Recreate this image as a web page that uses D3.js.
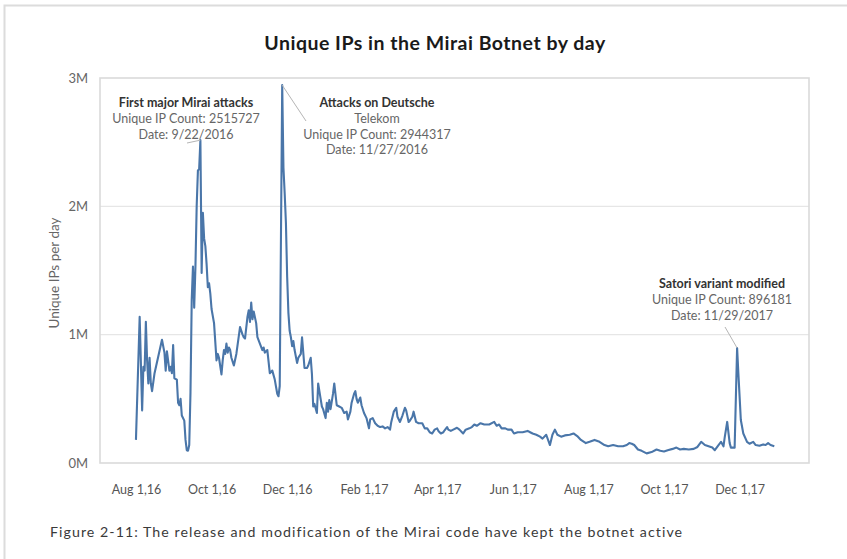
<!DOCTYPE html>
<html>
<head>
<meta charset="utf-8">
<script src="https://cdn.jsdelivr.net/npm/d3@7"></script>
<style>
  body { margin: 0; background: #fff; }
  svg text { font-family: Lato, "Open Sans", "Noto Sans", sans-serif; }
</style>
</head>
<body>
<svg id="chart" width="847" height="559"></svg>
<script>
// Daily unique IP counts of the Mirai botnet
const dates = [
  "2016-08-01","2016-08-04","2016-08-06","2016-08-07","2016-08-08","2016-08-09","2016-08-10","2016-08-11",
  "2016-08-12","2016-08-13","2016-08-14","2016-08-16","2016-08-19","2016-08-22","2016-08-24","2016-08-25",
  "2016-08-26","2016-08-28","2016-08-29","2016-08-30","2016-08-31",
  "2016-09-01","2016-09-03","2016-09-04","2016-09-05","2016-09-06","2016-09-07","2016-09-09","2016-09-10",
  "2016-09-11","2016-09-12","2016-09-13","2016-09-14","2016-09-15","2016-09-16","2016-09-17","2016-09-18",
  "2016-09-19","2016-09-20","2016-09-21","2016-09-22","2016-09-23","2016-09-24","2016-09-25","2016-09-26",
  "2016-09-27","2016-09-28","2016-09-29","2016-09-30",
  "2016-10-01","2016-10-03","2016-10-05","2016-10-06","2016-10-07","2016-10-09","2016-10-10","2016-10-11",
  "2016-10-12","2016-10-13","2016-10-14","2016-10-15","2016-10-16","2016-10-17","2016-10-19","2016-10-21",
  "2016-10-24","2016-10-26","2016-10-27","2016-10-28","2016-10-30","2016-10-31",
  "2016-11-01","2016-11-02","2016-11-03","2016-11-04","2016-11-06","2016-11-07","2016-11-09","2016-11-11",
  "2016-11-12","2016-11-13","2016-11-15","2016-11-17","2016-11-19","2016-11-21","2016-11-23","2016-11-24",
  "2016-11-25","2016-11-27","2016-11-28","2016-11-29","2016-11-30",
  "2016-12-01","2016-12-02","2016-12-03","2016-12-04","2016-12-05","2016-12-06","2016-12-07","2016-12-09",
  "2016-12-10","2016-12-12","2016-12-13","2016-12-15","2016-12-17","2016-12-18","2016-12-20","2016-12-21",
  "2016-12-22","2016-12-23","2016-12-25","2016-12-26","2016-12-28","2016-12-29","2016-12-30",
  "2017-01-01","2017-01-02","2017-01-03","2017-01-04","2017-01-05","2017-01-07","2017-01-08","2017-01-10",
  "2017-01-12","2017-01-14","2017-01-16","2017-01-18","2017-01-19","2017-01-21","2017-01-22","2017-01-24",
  "2017-01-25","2017-01-26","2017-01-27","2017-01-29","2017-01-30",
  "2017-02-01","2017-02-03","2017-02-05","2017-02-06","2017-02-08","2017-02-10","2017-02-12","2017-02-14",
  "2017-02-16","2017-02-18","2017-02-20","2017-02-22","2017-02-23","2017-02-25","2017-02-27","2017-02-28",
  "2017-03-02","2017-03-04","2017-03-06","2017-03-07","2017-03-09","2017-03-10","2017-03-12","2017-03-13",
  "2017-03-15","2017-03-17","2017-03-20","2017-03-22","2017-03-24","2017-03-26","2017-03-28","2017-03-30",
  "2017-04-01","2017-04-02","2017-04-04","2017-04-06","2017-04-07","2017-04-09","2017-04-10","2017-04-12",
  "2017-04-14","2017-04-17","2017-04-19","2017-04-21","2017-04-22","2017-04-24","2017-04-27","2017-04-29",
  "2017-05-01","2017-05-03","2017-05-06","2017-05-09","2017-05-13","2017-05-17","2017-05-19","2017-05-21",
  "2017-05-23","2017-05-26","2017-05-28","2017-05-31",
  "2017-06-02","2017-06-05","2017-06-09","2017-06-13","2017-06-15","2017-06-17","2017-06-20","2017-06-23",
  "2017-06-25","2017-06-28",
  "2017-07-01","2017-07-03","2017-07-05","2017-07-07","2017-07-10","2017-07-13","2017-07-17","2017-07-20",
  "2017-07-23","2017-07-26","2017-07-30",
  "2017-08-02","2017-08-06","2017-08-10","2017-08-14","2017-08-17","2017-08-21","2017-08-25","2017-08-29",
  "2017-09-01","2017-09-03","2017-09-05","2017-09-07","2017-09-10","2017-09-13","2017-09-17","2017-09-21",
  "2017-09-25","2017-09-28",
  "2017-10-01","2017-10-04","2017-10-08","2017-10-11","2017-10-14","2017-10-17","2017-10-21","2017-10-25",
  "2017-10-28","2017-10-31",
  "2017-11-03","2017-11-06","2017-11-09","2017-11-11","2017-11-14","2017-11-16","2017-11-18","2017-11-19",
  "2017-11-21","2017-11-23","2017-11-24","2017-11-27","2017-11-29","2017-11-30",
  "2017-12-01","2017-12-02","2017-12-04","2017-12-07","2017-12-09","2017-12-12","2017-12-14","2017-12-17",
  "2017-12-20","2017-12-22","2017-12-24","2017-12-26","2017-12-29"
];

const uniqueIPs = [
  180000,1140000,410000,750000,720000,1100000,800000,620000,
  820000,620000,560000,700000,830000,960000,860000,720000,
  870000,720000,750000,700000,920000,
  660000,650000,470000,450000,500000,370000,330000,180000,
  100000,96000,140000,550000,1270000,1530000,1210000,1530000,
  2000000,2280000,2290000,2515727,1480000,1950000,1750000,1690000,
  1550000,1370000,1400000,1320000,
  1200000,1090000,800000,850000,820000,690000,800000,880000,
  850000,930000,860000,900000,880000,820000,760000,850000,
  1060000,1000000,980000,970000,1140000,1190000,
  1100000,1250000,1120000,1180000,1090000,980000,930000,880000,
  900000,860000,880000,700000,720000,650000,540000,520000,
  600000,2944317,2300000,2100000,1870000,
  1450000,1170000,1030000,980000,910000,950000,880000,780000,
  820000,850000,980000,740000,740000,760000,820000,690000,
  440000,460000,390000,620000,500000,440000,420000,
  350000,470000,400000,490000,420000,540000,620000,450000,
  440000,430000,390000,400000,340000,400000,470000,540000,
  560000,500000,470000,510000,450000,
  390000,350000,270000,340000,350000,310000,290000,280000,
  285000,270000,280000,260000,320000,400000,430000,360000,
  320000,370000,430000,410000,320000,330000,360000,400000,
  320000,310000,310000,270000,270000,240000,230000,260000,
  270000,250000,230000,240000,255000,280000,260000,250000,
  260000,275000,260000,240000,230000,260000,270000,280000,
  300000,290000,310000,300000,300000,320000,290000,300000,
  270000,270000,260000,260000,
  230000,240000,240000,250000,240000,230000,220000,205000,
  190000,220000,
  140000,220000,260000,220000,205000,215000,220000,230000,
  210000,180000,155000,
  165000,180000,165000,140000,130000,140000,130000,130000,
  140000,155000,150000,140000,105000,95000,75000,85000,
  105000,95000,
  90000,100000,110000,120000,105000,110000,105000,110000,
  125000,165000,
  140000,130000,120000,100000,140000,165000,130000,200000,
  320000,155000,120000,120000,896181,700000,
  520000,335000,230000,165000,150000,165000,140000,135000,
  145000,140000,155000,140000,130000
];

const xTickDates = ["2016-08-01","2016-10-01","2016-12-01","2017-02-01","2017-04-01",
                    "2017-06-01","2017-08-01","2017-10-01","2017-12-01"];
const yTickValues = [0, 1000000, 2000000, 3000000];

// Annotated events
const noteDates = ["2016-09-22", "2016-11-27", "2017-11-29"];
const noteCounts = [2515727, 2944317, 896181];
const noteTitles = [["First major Mirai attacks"], ["Attacks on Deutsche"], ["Satori variant modified"]];
const noteSubtitles = [[], ["Telekom"], []];
const noteDateLabels = ["9/22/2016", "11/27/2016", "11/29/2017"];

const titleText = "Unique IPs in the Mirai Botnet by day";
const yTitleText = "Unique IPs per day";
const captionText = "Figure 2-11: The release and modification of the Mirai code have kept the botnet active";

// ---- drawing ----
const parse = d3.timeParse("%Y-%m-%d");
const series = dates.map((d, i) => ({ date: parse(d), value: uniqueIPs[i] }));

const svg = d3.select("#chart");
const plot = { left: 100, top: 78, right: 809, bottom: 463 };

const x = d3.scaleTime()
  .domain([parse("2016-07-03"), parse("2018-01-26")])
  .range([plot.left, plot.right]);
const y = d3.scaleLinear()
  .domain([0, 3000000])
  .range([plot.bottom, plot.top]);

// outer frame of the figure
svg.append("path")
  .attr("d", "M4.5,560 L4.5,5.5 L848,5.5")
  .attr("fill", "none")
  .attr("stroke", "#dcdcdc")
  .attr("stroke-width", 2);

// title
svg.append("text")
  .attr("x", 435).attr("y", 50)
  .attr("text-anchor", "middle")
  .attr("font-size", 19.5)
  .attr("font-weight", 700)
  .attr("letter-spacing", 0.5)
  .attr("fill", "#1a1a1a")
  .text(titleText);

// gridlines
svg.append("g")
  .selectAll("line")
  .data(yTickValues.filter(v => v > 0 && v < 3000000))
  .join("line")
  .attr("x1", plot.left).attr("x2", plot.right)
  .attr("y1", d => y(d)).attr("y2", d => y(d))
  .attr("stroke", "#e6e6e6").attr("stroke-width", 1.2);

// plot frame
svg.append("rect")
  .attr("x", plot.left).attr("y", plot.top)
  .attr("width", plot.right - plot.left).attr("height", plot.bottom - plot.top)
  .attr("fill", "none").attr("stroke", "#dadada").attr("stroke-width", 1.6);

// y axis
const yAxis = svg.append("g")
  .attr("transform", `translate(${plot.left},0)`)
  .call(d3.axisLeft(y).tickValues(yTickValues).tickSize(0).tickPadding(12)
    .tickFormat(d => (d / 1e6) + "M"));
yAxis.select(".domain").remove();
yAxis.selectAll("text")
  .attr("font-size", 13).attr("fill", "#666")
  .style("font-family", "Lato, 'Open Sans', sans-serif");

svg.append("text")
  .attr("transform", "translate(59,273) rotate(-90)")
  .attr("text-anchor", "middle")
  .attr("font-size", 13.5)
  .attr("fill", "#666")
  .text(yTitleText);

// x axis
const xAxis = svg.append("g")
  .attr("transform", `translate(0,${plot.bottom})`)
  .call(d3.axisBottom(x).tickValues(xTickDates.map(parse)).tickSize(0).tickPadding(22)
    .tickFormat(d3.timeFormat("%b %-d,%y")));
xAxis.select(".domain").remove();
xAxis.selectAll("text")
  .attr("font-size", 12.5).attr("fill", "#555")
  .style("font-family", "Lato, 'Open Sans', sans-serif");

// series line
svg.append("path")
  .datum(series)
  .attr("fill", "none")
  .attr("stroke", "#4a76a9")
  .attr("stroke-width", 2.1)
  .attr("stroke-linejoin", "round")
  .attr("d", d3.line().x(d => x(d.date)).y(d => y(d.value)));

// annotations
const noteLayout = [
  { cx: 186, top: 107, from: [187, 143] },
  { cx: 377, top: 107, from: [306, 121] },
  { cx: 722, top: 288, from: [725, 327] }
];
const fmtCount = d3.format("d");
noteDates.forEach((nd, i) => {
  const L = noteLayout[i];
  const px = x(parse(nd)), py = y(noteCounts[i]);
  svg.append("line")
    .attr("x1", L.from[0]).attr("y1", L.from[1])
    .attr("x2", px).attr("y2", py)
    .attr("stroke", "#b5b5b5").attr("stroke-width", 1);
  const lines = [
    ...noteTitles[i].map(t => ({ t, bold: true })),
    ...noteSubtitles[i].map(t => ({ t, bold: false })),
    { t: "Unique IP Count: " + fmtCount(noteCounts[i]), bold: false },
    { t: "Date: " + noteDateLabels[i], bold: false }
  ];
  const g = svg.append("g");
  lines.forEach((ln, k) => {
    g.append("text")
      .attr("x", L.cx).attr("y", L.top + k * 15.8)
      .attr("text-anchor", "middle")
      .attr("font-size", 12.5)
      .attr("font-weight", ln.bold ? 700 : 400)
      .attr("fill", ln.bold ? "#333" : "#666")
      .text(ln.t);
  });
});

// caption
svg.append("text")
  .attr("x", 50).attr("y", 537)
  .attr("font-size", 14.2)
  .attr("letter-spacing", 1.05)
  .attr("fill", "#3a3a3a")
  .text(captionText);
</script>
</body>
</html>
